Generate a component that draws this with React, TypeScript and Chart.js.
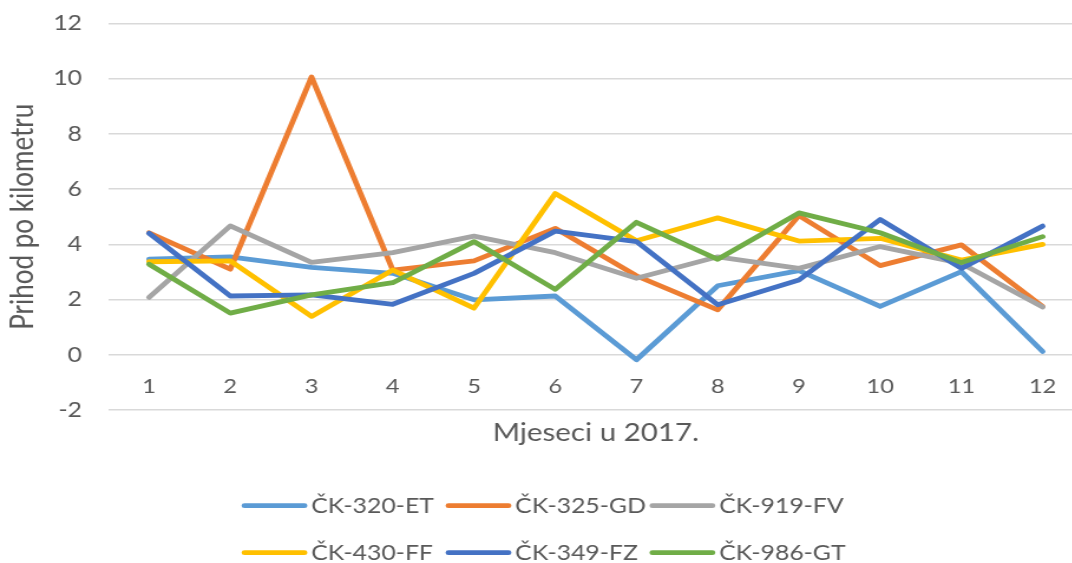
import React, { useEffect, useRef } from 'react';
import { Chart, registerables } from 'chart.js';

Chart.register(...registerables);

const months = ['1', '2', '3', '4', '5', '6', '7', '8', '9', '10', '11', '12'];
const seriesNames = ['ČK-320-ET', 'ČK-325-GD', 'ČK-919-FV', 'ČK-430-FF', 'ČK-349-FZ', 'ČK-986-GT'];
const ck320et = [3.46, 3.55, 3.17, 2.95, 1.99, 2.13, -0.18, 2.5, 3.05, 1.75, 3.01, 0.12];
const ck325gd = [4.42, 3.1, 10.06, 3.07, 3.4, 4.58, 2.86, 1.63, 5.04, 3.23, 3.98, 1.75];
const ck919fv = [2.08, 4.67, 3.35, 3.7, 4.3, 3.7, 2.77, 3.55, 3.13, 3.92, 3.31, 1.73];
const ck430ff = [3.37, 3.4, 1.39, 3.07, 1.69, 5.84, 4.13, 4.96, 4.12, 4.22, 3.43, 4.0];
const ck349fz = [4.4, 2.13, 2.17, 1.83, 2.95, 4.48, 4.1, 1.81, 2.71, 4.9, 3.13, 4.66];
const ck986gt = [3.28, 1.51, 2.17, 2.61, 4.1, 2.37, 4.8, 3.46, 5.14, 4.42, 3.34, 4.28];
const seriesValues = [ck320et, ck325gd, ck919fv, ck430ff, ck349fz, ck986gt];
const seriesColors = ['#5B9BD5', '#ED7D31', '#A5A5A5', '#FFC000', '#4472C4', '#70AD47'];
const yMin = -2;
const yMax = 12;
const yStep = 2;
const xTitle = 'Mjeseci u 2017.';
const yTitle = 'Prihod po kilometru';

const SX = 1.18;
const W = 918;
const H = 563;
const FONT = 'Lato';
const TEXT = '#595959';

const gridLegend = {
  id: 'gridLegend',
  afterDraw(chart: any) {
    const ctx = chart.ctx;
    const cols = [205.1, 378.0, 550.8];
    const rows = [505.7, 552.7];
    chart.data.datasets.forEach((ds: any, i: number) => {
      const x = cols[i % 3];
      const y = rows[Math.floor(i / 3)];
      ctx.save();
      ctx.strokeStyle = ds.borderColor;
      ctx.lineWidth = 4.8;
      ctx.lineCap = 'round';
      ctx.beginPath();
      ctx.moveTo(x + 2, y);
      ctx.lineTo(x + 53, y);
      ctx.stroke();
      ctx.fillStyle = TEXT;
      ctx.font = `21px ${FONT}`;
      ctx.textBaseline = 'middle';
      ctx.textAlign = 'left';
      ctx.fillText(ds.label, x + 58.6, y + 1);
      ctx.restore();
    });
  },
};

export default function App() {
  const ref = useRef<HTMLCanvasElement>(null);

  useEffect(() => {
    if (!ref.current) return;
    const chart = new Chart(ref.current, {
      type: 'line',
      data: {
        labels: months,
        datasets: seriesNames.map((name, i) => ({
          label: name,
          data: seriesValues[i],
          borderColor: seriesColors[i],
          backgroundColor: seriesColors[i],
          borderWidth: 4.8,
          borderJoinStyle: 'round' as const,
          borderCapStyle: 'round' as const,
          pointRadius: 0,
          tension: 0,
          order: seriesNames.length - i,
        })),
      },
      options: {
        animation: false,
        responsive: false,
        devicePixelRatio: 1,
        layout: { padding: { top: 23.5, bottom: 111, left: 0, right: 0 } },
        plugins: {
          legend: { display: false },
          tooltip: { enabled: false },
        },
        scales: {
          x: {
            type: 'category',
            position: { y: 0 } as any,
            offset: true,
            grid: { display: false, drawTicks: false },
            border: { display: false },
            ticks: {
              color: TEXT,
              font: { family: FONT, size: 20 },
              padding: 20,
              maxRotation: 0,
              autoSkip: false,
            },
          },
          x2: {
            type: 'category',
            axis: 'x',
            position: 'bottom',
            labels: months,
            offset: true,
            grid: { display: false, drawTicks: false },
            border: { display: false },
            ticks: { display: false },
            title: {
              display: true,
              text: xTitle,
              color: TEXT,
              font: { family: FONT, size: 25 },
              padding: { top: 8, bottom: 4 },
            },
          },
          y: {
            min: yMin,
            max: yMax,
            ticks: {
              stepSize: yStep,
              color: TEXT,
              font: { family: FONT, size: 21 },
              padding: 0,
            },
            grid: {
              color: '#D9D9D9',
              lineWidth: 1.5,
              drawTicks: true,
              tickLength: 22.4,
              tickColor: 'rgba(0,0,0,0)',
            },
            border: { display: false },
            title: {
              display: true,
              text: yTitle,
              color: TEXT,
              font: { family: FONT, size: 26 },
              padding: { top: 4, bottom: 0 },
            },
            afterFit: (s: any) => {
              s.width = 91.9;
            },
          },
        },
      } as any,
      plugins: [gridLegend],
    });
    return () => chart.destroy();
  }, []);

  return (
    <div
      style={{
        position: 'fixed',
        left: 0,
        top: 0,
        width: 1072,
        height: 563,
        overflow: 'hidden',
        background: '#ffffff',
      }}
    >
      <div style={{ width: W, height: H, transform: `scaleX(${SX})`, transformOrigin: '0 0' }}>
        <canvas ref={ref} width={W} height={H} style={{ width: W, height: H, display: 'block' }} />
      </div>
    </div>
  );
}
